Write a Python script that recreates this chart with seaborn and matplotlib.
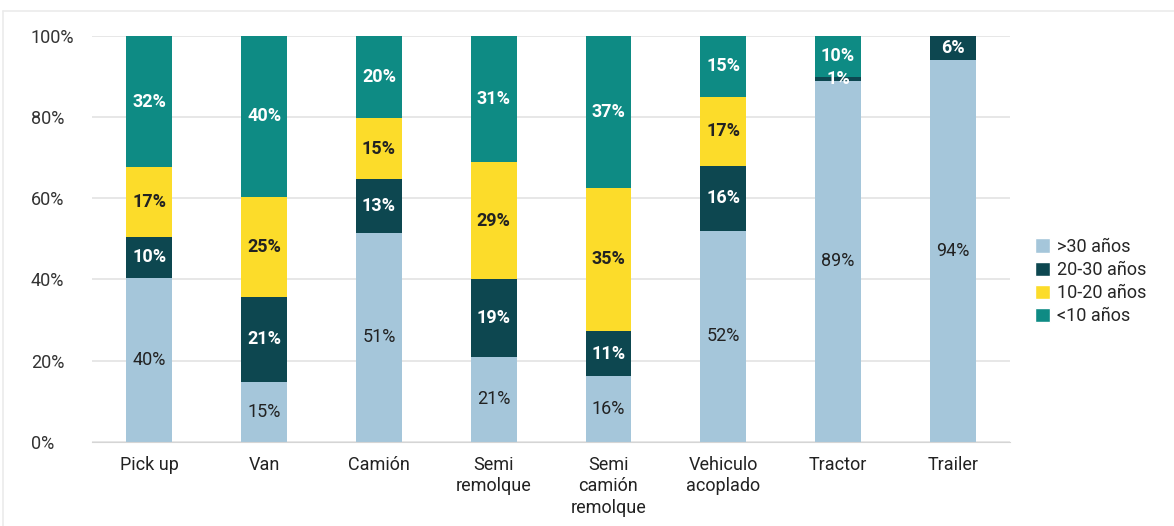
import numpy as np
import pandas as pd
import matplotlib
matplotlib.use('Agg')
import matplotlib.pyplot as plt
import seaborn as sns
from matplotlib.patches import Patch
from matplotlib.lines import Line2D

categories = ['Pick up', 'Van', 'Camión', 'Semi\nremolque', 'Semi\ncamión\nremolque',
              'Vehiculo\nacoplado', 'Tractor', 'Trailer']
mas_30 = [40, 15, 51, 21, 16, 52, 89, 94]
de_20_30 = [10, 21, 13, 19, 11, 16, 1, 6]
de_10_20 = [17, 25, 15, 29, 35, 17, 0, 0]
menos_10 = [32, 40, 20, 31, 37, 15, 10, 0]
series_names = ['>30 años', '20-30 años', '10-20 años', '<10 años']
colors = ['#A5C6DA', '#0D4750', '#FCDC2A', '#0E8B84']
text_colors = ['#222222', 'white', '#222222', 'white']
weights = ['normal', 'bold', 'bold', 'bold']

sns.set_style('white')
plt.rcParams['font.family'] = ['Roboto', 'DejaVu Sans']
fs = 13

vals = np.array([mas_30, de_20_30, de_10_20, menos_10], dtype=float)
shares = vals / vals.sum(axis=0) * 100
cum = np.cumsum(shares, axis=0)

fig = plt.figure(figsize=(11.74, 5.26), dpi=100)
ax = fig.add_axes([0.0784, 0.160, 0.782, 0.7716])

# faint frame of the original screenshot
fig.add_artist(Line2D([3 / 1174, 1], [1 - 11 / 526, 1 - 11 / 526], color='#EBEBEB', lw=1.2))
fig.add_artist(Line2D([3 / 1174, 3 / 1174], [0, 1 - 11 / 526], color='#EBEBEB', lw=1.2))

# draw cumulative bars from the top layer down
for i in range(3, -1, -1):
    df = pd.DataFrame({'cat': categories, 'val': cum[i]})
    sns.barplot(data=df, x='cat', y='val', color=colors[i], width=0.4,
                saturation=1, linewidth=0, ax=ax, zorder=2)

for i in range(4):
    for j in range(len(categories)):
        v = vals[i, j]
        if v <= 0:
            continue
        y = cum[i, j] - shares[i, j] / 2
        ax.text(j, y, f'{int(v)}%', ha='center', va='center', fontsize=fs,
                color=text_colors[i], fontweight=weights[i], zorder=3)

ax.set_ylim(0, 100)
ax.set_xlim(-0.5, len(categories) - 0.5)
ax.set_yticks([0, 20, 40, 60, 80, 100])
ax.set_yticklabels([f'{t}%' for t in [0, 20, 40, 60, 80, 100]])
ax.yaxis.grid(True, color='#E3E3E3', linewidth=1.2, zorder=0)
ax.set_axisbelow(True)
ax.set_xlabel('')
ax.set_ylabel('')
ax.tick_params(axis='y', length=0, labelsize=fs, labelcolor='#333333', pad=44)
ax.tick_params(axis='x', which='major', length=0, labelsize=fs, labelcolor='#222222', pad=10)
ax.set_xticks(np.arange(len(categories) + 1) - 0.5, minor=True)
ax.tick_params(axis='x', which='minor', length=6, color='#D5D5D5', width=1)
for lbl in ax.get_yticklabels():
    lbl.set_horizontalalignment('left')
for lbl in ax.get_xticklabels():
    lbl.set_linespacing(1.25)
for s in ['top', 'right', 'left']:
    ax.spines[s].set_visible(False)
ax.spines['bottom'].set_color('#D5D5D5')

handles = [Patch(facecolor=c) for c in colors]
ax.legend(handles, series_names, loc='center left', bbox_to_anchor=(1.027, 0.395),
          frameon=False, fontsize=fs, handlelength=0.85, handleheight=0.85,
          handletextpad=0.35, labelspacing=0.28, borderpad=0, borderaxespad=0)

fig.savefig('out.png', dpi=100)
